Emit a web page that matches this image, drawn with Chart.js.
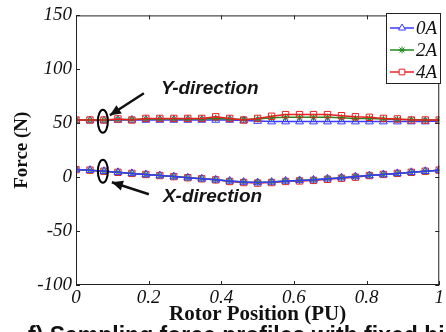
<!DOCTYPE html>
<html lang="en">
<head>
  <meta charset="UTF-8">
  <title>Force vs Rotor Position</title>
  <script src="https://cdn.jsdelivr.net/npm/chart.js"></script>
  <style>
    body { margin:0; background:#fff; }
    #wrap { width:446px; height:332px; }
  </style>
</head>
<body>
  <div id="wrap"><canvas id="chart"></canvas></div>
  <script>
    // rotor position, 27 samples over one period
    const positions = [0,1,2,3,4,5,6,7,8,9,10,11,12,13,14,15,16,17,18,19,20,21,22,23,24,25,26].map(i => i / 26);
    const currents = ["0A", "2A", "4A"];

    // Y-direction force (N)
    const fy0A = [53,52.5,52.5,53,53,53,53,53,53,53,53,53,52.5,52,51.5,51.5,51.5,51.5,51.5,51.5,51.5,51.5,51.5,51.5,51.5,51.5,52];
    const fy2A = [53,53,53,53.5,53.5,54,54,54,54,54,54.5,54,53.5,54,55,55.5,55.5,55.5,55.5,55,54.5,54.5,54,53.5,53.5,53,53];
    const fy4A = [53,53,53,54,53,54.5,54.5,54.5,54.5,54.5,56,54.5,53,54.5,56.5,58,58,58,58,57,56,55.5,54.5,54,53,53,53];

    // X-direction force (N)
    const fx0A = [7,6.5,5.5,4.5,3.5,2.5,1.5,0.5,-0.5,-1.5,-2.5,-3.5,-4.5,-5,-4.5,-3.5,-3,-2.5,-1.5,-0.5,0.5,1.5,2.5,3.5,4.5,5.5,6.5];
    const fx2A = [7,6.5,5.5,4.5,3.5,2.5,1.5,0.5,-0.5,-1.5,-2.5,-3.5,-4.5,-5,-4.5,-3.5,-3,-2.5,-1.5,-0.5,0.5,1.5,2.5,3.5,4.5,5.5,6.5];
    const fx4A = [7,6.5,5.5,4.5,3.5,2.5,1.5,0.5,-0.5,-1.5,-2.5,-4,-5,-5.5,-5,-4,-3.5,-3,-2,-1,0,1.5,2.5,3.5,4.5,5.5,6.5];

    const yTicks = [-100, -50, 0, 50, 100, 150];
    const xTicks = [0, 0.2, 0.4, 0.6, 0.8, 1];

    const colors = { "0A": "#3a3aff", "2A": "#1f8a1f", "4A": "#e82020" };
    const marks = { "0A": "triangle", "2A": "star", "4A": "rect" };

    const pts = arr => arr.map((v, i) => ({ x: positions[i], y: v }));

    function ds(cur, data, order) {
      return {
        label: cur,
        data: pts(data),
        borderColor: colors[cur],
        backgroundColor: 'rgba(255,255,255,0)',
        pointBorderColor: colors[cur],
        pointBackgroundColor: 'rgba(255,255,255,0)',
        pointStyle: marks[cur],
        pointRadius: cur === "2A" ? 3.5 : 4.5,
        pointBorderWidth: 1,
        borderWidth: 1.5,
        tension: 0,
        order: order
      };
    }

    const serif = "'Liberation Serif', 'Times New Roman', serif";
    const sans = "'Liberation Sans', Arial, sans-serif";

    const decor = {
      id: 'decor',
      afterDraw(chart) {
        const ctx = chart.ctx, a = chart.chartArea;
        const xs = chart.scales.x, ys = chart.scales.y;
        ctx.save();
        // axes box
        ctx.strokeStyle = '#222';
        ctx.lineWidth = 1;
        ctx.strokeRect(a.left + 0.5, a.top + 0.5, a.right - a.left - 1, a.bottom - a.top - 1);
        // inward ticks
        ctx.beginPath();
        xTicks.forEach(v => {
          const px = Math.round(xs.getPixelForValue(v)) + 0.5;
          ctx.moveTo(px, a.bottom); ctx.lineTo(px, a.bottom - 4);
          ctx.moveTo(px, a.top); ctx.lineTo(px, a.top + 4);
        });
        yTicks.forEach(v => {
          const py = Math.round(ys.getPixelForValue(v)) + 0.5;
          ctx.moveTo(a.left, py); ctx.lineTo(a.left + 4, py);
          ctx.moveTo(a.right, py); ctx.lineTo(a.right - 4, py);
        });
        ctx.stroke();

        // axis titles
        ctx.fillStyle = '#111';
        ctx.textAlign = 'center';
        ctx.textBaseline = 'middle';
        ctx.font = "bold 21px " + serif;
        ctx.fillText("Rotor Position (PU)", (a.left + a.right) / 2, 315);
        ctx.font = "bold 19px " + serif;
        ctx.save();
        ctx.translate(22, (a.top + a.bottom) / 2);
        ctx.rotate(-Math.PI / 2);
        ctx.fillText("Force (N)", 0, 0);
        ctx.restore();

        // caption, cut by the bottom edge
        ctx.font = "bold 23px " + sans;
        ctx.textAlign = 'left';
        ctx.textBaseline = 'alphabetic';
        ctx.fillText("f) Sampling force profiles with fixed bias", 28, 343);

        // annotations
        const ex = xs.getPixelForValue(0.074);
        function ellipse(yv) {
          const cy = ys.getPixelForValue(yv);
          ctx.beginPath();
          ctx.ellipse(ex, cy, 5, 11.5, 0, 0, Math.PI * 2);
          ctx.lineWidth = 2;
          ctx.strokeStyle = '#000';
          ctx.stroke();
        }
        function arrow(x1, y1, x2, y2) {
          ctx.beginPath();
          ctx.moveTo(x1, y1); ctx.lineTo(x2, y2);
          ctx.lineWidth = 2.5;
          ctx.strokeStyle = '#111';
          ctx.stroke();
          const ang = Math.atan2(y2 - y1, x2 - x1), L = 11, W = 5;
          ctx.beginPath();
          ctx.moveTo(x2, y2);
          ctx.lineTo(x2 - L * Math.cos(ang) + W * Math.sin(ang), y2 - L * Math.sin(ang) - W * Math.cos(ang));
          ctx.lineTo(x2 - L * Math.cos(ang) - W * Math.sin(ang), y2 - L * Math.sin(ang) + W * Math.cos(ang));
          ctx.closePath();
          ctx.fillStyle = '#111';
          ctx.fill();
        }
        ellipse(51.8);
        ellipse(5.5);
        const yY = ys.getPixelForValue(51.8), yX = ys.getPixelForValue(5.5);
        arrow(ex + 41, yY - 28, ex + 7, yY - 6);
        arrow(ex + 46, yX + 23, ex + 9, yX + 11);
        ctx.font = "italic bold 19px " + sans;
        ctx.fillStyle = '#151515';
        ctx.textAlign = 'left';
        ctx.textBaseline = 'middle';
        ctx.fillText("Y-direction", ex + 58, yY - 33);
        ctx.fillText("X-direction", ex + 60, yX + 26);

        // legend
        const lx = 386, ly = 13, lw = 54, lh = 70;
        ctx.fillStyle = '#fff';
        ctx.fillRect(lx, ly, lw, lh);
        ctx.lineWidth = 1;
        ctx.strokeStyle = '#222';
        ctx.strokeRect(lx + 0.5, ly + 0.5, lw, lh);
        currents.forEach((c, i) => {
          const ry = ly + 15 + i * 22;
          ctx.beginPath();
          ctx.moveTo(lx + 4, ry); ctx.lineTo(lx + 28, ry);
          ctx.strokeStyle = colors[c];
          ctx.lineWidth = 1.5;
          ctx.stroke();
          ctx.fillStyle = '#fff';
          ctx.strokeStyle = colors[c];
          ctx.lineWidth = 1;
          Chart.helpers.drawPoint(ctx, {
            pointStyle: marks[c], radius: c === "2A" ? 3.5 : 4, rotation: 0, borderWidth: 1
          }, lx + 16, ry);
          ctx.fillStyle = '#111';
          ctx.font = "italic 19px " + serif;
          ctx.textAlign = 'left';
          ctx.fillText(c, lx + 30, ry + 1);
        });
        ctx.restore();
      }
    };

    new Chart(document.getElementById('chart').getContext('2d'), {
      type: 'line',
      data: {
        datasets: [
          ds("0A", fy0A, 3), ds("2A", fy2A, 2), ds("4A", fy4A, 1),
          ds("4A", fx4A, 6), ds("2A", fx2A, 5), ds("0A", fx0A, 4)
        ]
      },
      options: {
        responsive: true,
        maintainAspectRatio: false,
        animation: false,
        layout: { padding: { top: 10, right: 5, left: 0, bottom: 0 } },
        plugins: { legend: { display: false }, tooltip: { enabled: false } },
        scales: {
          x: {
            type: 'linear', min: 0, max: 1,
            afterFit: s => { s.height = 47; },
            afterBuildTicks: s => { s.ticks = xTicks.map(v => ({ value: v })); },
            grid: { display: false, drawTicks: false }, border: { display: false },
            ticks: {
              padding: 2, color: '#111',
              font: { family: serif, size: 19, style: 'italic' },
              callback: v => String(v)
            }
          },
          y: {
            min: -100, max: 150,
            afterFit: s => { s.width = 76; },
            afterBuildTicks: s => { s.ticks = yTicks.map(v => ({ value: v })); },
            grid: { display: false, drawTicks: false }, border: { display: false },
            ticks: {
              padding: 4, color: '#111',
              font: { family: serif, size: 19, style: 'italic' }
            }
          }
        }
      },
      plugins: [decor]
    });
  </script>
</body>
</html>
